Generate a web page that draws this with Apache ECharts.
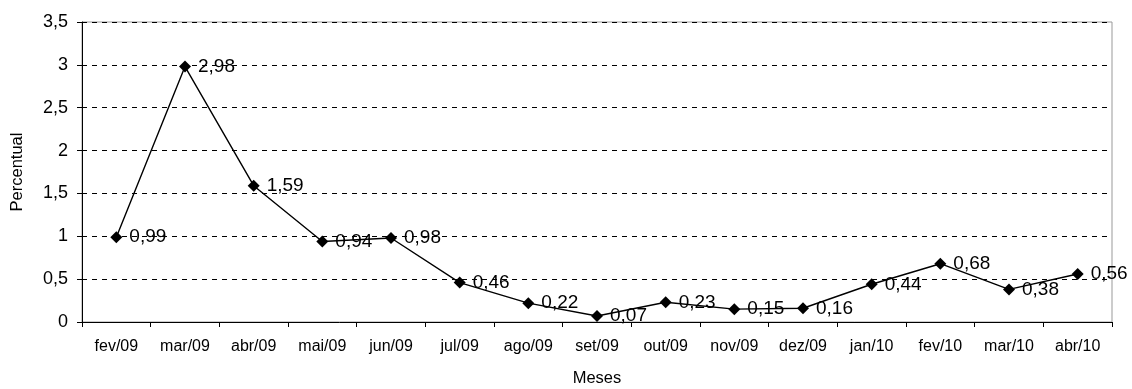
<!DOCTYPE html>
<html>
<head>
<meta charset="utf-8">
<script src="https://cdn.jsdelivr.net/npm/echarts@6/dist/echarts.min.js"></script>
<style>
  html, body { margin: 0; padding: 0; background: #fff; }
  #chart { width: 1132px; height: 389px; }
</style>
</head>
<body>
<div id="chart"></div>
<script>
// Monthly percentage values, Feb/2009 to Apr/2010
const months = ['fev/09', 'mar/09', 'abr/09', 'mai/09', 'jun/09', 'jul/09', 'ago/09', 'set/09',
                'out/09', 'nov/09', 'dez/09', 'jan/10', 'fev/10', 'mar/10', 'abr/10'];
const percentual = [0.99, 2.98, 1.59, 0.94, 0.98, 0.46, 0.22, 0.07, 0.23, 0.15, 0.16, 0.44, 0.68, 0.38, 0.56];

const fmt = v => String(v).replace('.', ',');
const font = '"Liberation Sans", Arial, sans-serif';

const chart = echarts.init(document.getElementById('chart'), null, { renderer: 'canvas' });
chart.setOption({
  animation: false,
  backgroundColor: '#ffffff',
  grid: {
    left: 82, right: 20, top: 22, bottom: 67,
    containLabel: false,
    outerBoundsMode: 'none',
    show: true, borderColor: '#999999', borderWidth: 1
  },
  xAxis: {
    type: 'category',
    data: months,
    boundaryGap: true,
    name: 'Meses',
    nameLocation: 'middle',
    nameGap: 48,
    nameTextStyle: { fontFamily: font, fontSize: 16.5, color: '#000' },
    axisLine: { lineStyle: { color: '#000', width: 1 } },
    axisTick: { show: true, alignWithLabel: false, length: 5, lineStyle: { color: '#000' } },
    axisLabel: { fontFamily: font, fontSize: 16, color: '#000', margin: 17 },
    splitLine: { show: false }
  },
  yAxis: {
    type: 'value',
    min: 0, max: 3.5, interval: 0.5,
    name: 'Percentual',
    nameLocation: 'middle',
    nameGap: 56,
    nameTextStyle: { fontFamily: font, fontSize: 16.5, color: '#000' },
    axisLine: { show: true, lineStyle: { color: '#000', width: 1 } },
    axisTick: { show: true, length: 5, lineStyle: { color: '#000' } },
    axisLabel: { fontFamily: font, fontSize: 18, color: '#000', margin: 14, formatter: v => fmt(v) },
    splitLine: { show: true, lineStyle: { color: '#000', type: [5, 5], width: 1 } }
  },
  series: [{
    type: 'line',
    data: percentual,
    symbol: 'diamond',
    symbolSize: 12,
    itemStyle: { color: '#000' },
    lineStyle: { color: '#000', width: 1.4 },
    label: {
      show: true,
      position: 'right',
      distance: 7,
      fontFamily: font,
      fontSize: 19,
      color: '#000',
      formatter: p => fmt(p.value)
    }
  }]
});
</script>
</body>
</html>
